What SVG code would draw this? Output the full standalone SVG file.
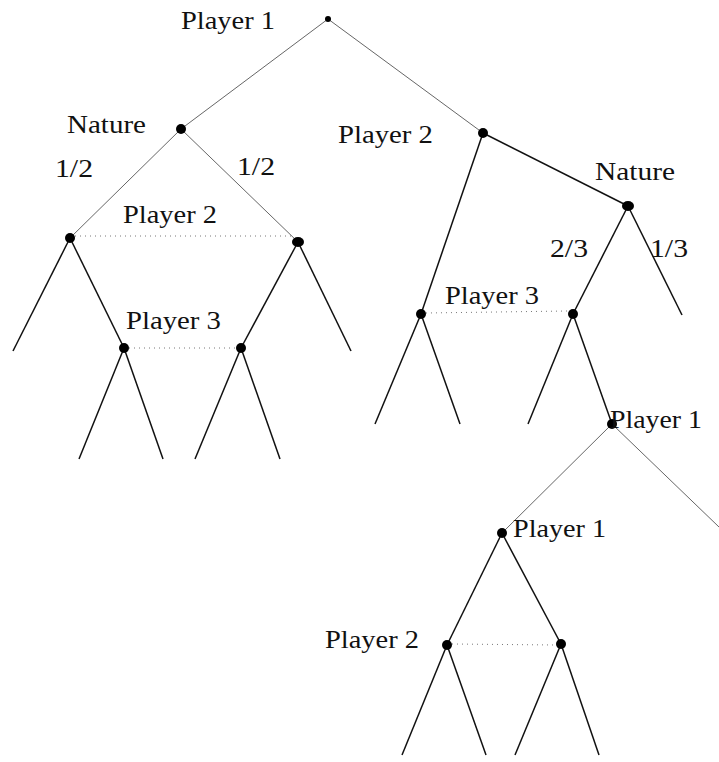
<svg xmlns="http://www.w3.org/2000/svg" width="719" height="762" viewBox="0 0 719 762">
<style>
.thin{stroke:#555;stroke-width:0.9;fill:none}
.thick{stroke:#111;stroke-width:1.5;fill:none}
.info{stroke:#777;stroke-width:1;stroke-dasharray:1 4;fill:none}
.dot{fill:#000}
text{font-family:"Liberation Serif","DejaVu Serif",serif;font-size:25px;fill:#111}
</style>
<rect width="719" height="762" fill="#fff"/>
<g id="connectors">
<line class="thin" x1="328" y1="19" x2="181" y2="129"/>
<line class="thin" x1="328" y1="19" x2="483" y2="133"/>
<line class="thin" x1="181" y1="129" x2="70" y2="238"/>
<line class="thin" x1="181" y1="129" x2="298" y2="242"/>
<line class="thick" x1="70" y1="238" x2="13" y2="351"/>
<line class="thick" x1="70" y1="238" x2="124" y2="348"/>
<line class="thick" x1="298" y1="242" x2="241" y2="348"/>
<line class="thick" x1="298" y1="242" x2="351" y2="351"/>
<line class="thick" x1="124" y1="348" x2="79" y2="459"/>
<line class="thick" x1="124" y1="348" x2="163" y2="459"/>
<line class="thick" x1="241" y1="348" x2="195" y2="459"/>
<line class="thick" x1="241" y1="348" x2="280" y2="459"/>
<line class="thick" x1="483" y1="133" x2="421" y2="314"/>
<line class="thick" x1="483" y1="133" x2="628" y2="206"/>
<line class="thick" x1="628" y1="206" x2="573" y2="314"/>
<line class="thick" x1="628" y1="206" x2="682" y2="315"/>
<line class="thick" x1="421" y1="314" x2="375" y2="424"/>
<line class="thick" x1="421" y1="314" x2="460" y2="424"/>
<line class="thick" x1="573" y1="314" x2="528" y2="424"/>
<line class="thick" x1="573" y1="314" x2="612" y2="424"/>
<line class="thin" x1="612" y1="424" x2="502" y2="533"/>
<line class="thin" x1="612" y1="424" x2="719" y2="527"/>
<line class="thick" x1="502" y1="533" x2="447" y2="645"/>
<line class="thick" x1="502" y1="533" x2="561" y2="644"/>
<line class="thick" x1="447" y1="645" x2="402" y2="755"/>
<line class="thick" x1="447" y1="645" x2="486" y2="755"/>
<line class="thick" x1="561" y1="644" x2="515" y2="755"/>
<line class="thick" x1="561" y1="644" x2="599" y2="755"/>
<line class="info" x1="75" y1="236" x2="293" y2="236"/>
<line class="info" x1="129" y1="348" x2="236" y2="348"/>
<line class="info" x1="426" y1="313" x2="568" y2="311"/>
<line class="info" x1="452" y1="644" x2="556" y2="645"/>
</g>
<g id="n-root"><circle class="dot" cx="328" cy="19" r="3"/><text x="181" y="29" textLength="94" lengthAdjust="spacingAndGlyphs">Player 1</text></g>
<g id="n-nature1"><circle class="dot" cx="181" cy="129" r="5"/><text x="67" y="133" textLength="79" lengthAdjust="spacingAndGlyphs">Nature</text><text x="55" y="177" textLength="38" lengthAdjust="spacingAndGlyphs">1/2</text><text x="237" y="175" textLength="38" lengthAdjust="spacingAndGlyphs">1/2</text></g>
<g id="n-p2a"><circle class="dot" cx="70" cy="238" r="5"/><text x="123" y="223" textLength="94" lengthAdjust="spacingAndGlyphs">Player 2</text></g>
<g id="n-p2b"><ellipse class="dot" cx="298" cy="242" rx="6" ry="5"/></g>
<g id="n-p3a"><circle class="dot" cx="124" cy="348" r="5"/><text x="126" y="329" textLength="95" lengthAdjust="spacingAndGlyphs">Player 3</text></g>
<g id="n-p3b"><circle class="dot" cx="241" cy="348" r="5"/></g>
<g id="n-p2c"><circle class="dot" cx="483" cy="133" r="5"/><text x="338" y="143" textLength="95" lengthAdjust="spacingAndGlyphs">Player 2</text></g>
<g id="n-nature2"><ellipse class="dot" cx="628" cy="206" rx="6" ry="5"/><text x="595" y="180" textLength="80" lengthAdjust="spacingAndGlyphs">Nature</text><text x="550" y="257" textLength="38" lengthAdjust="spacingAndGlyphs">2/3</text><text x="650" y="257" textLength="38" lengthAdjust="spacingAndGlyphs">1/3</text></g>
<g id="n-p3c"><circle class="dot" cx="421" cy="314" r="5"/><text x="445" y="304" textLength="94" lengthAdjust="spacingAndGlyphs">Player 3</text></g>
<g id="n-p3d"><circle class="dot" cx="573" cy="314" r="5"/></g>
<g id="n-p1b"><circle class="dot" cx="612" cy="424" r="5"/><text x="610" y="428" textLength="92" lengthAdjust="spacingAndGlyphs">Player 1</text></g>
<g id="n-p1c"><circle class="dot" cx="502" cy="533" r="5"/><text x="513" y="537" textLength="93" lengthAdjust="spacingAndGlyphs">Player 1</text></g>
<g id="n-p2d"><circle class="dot" cx="447" cy="645" r="5"/><text x="325" y="648" textLength="94" lengthAdjust="spacingAndGlyphs">Player 2</text></g>
<g id="n-p2e"><circle class="dot" cx="561" cy="644" r="5"/></g>
</svg>
